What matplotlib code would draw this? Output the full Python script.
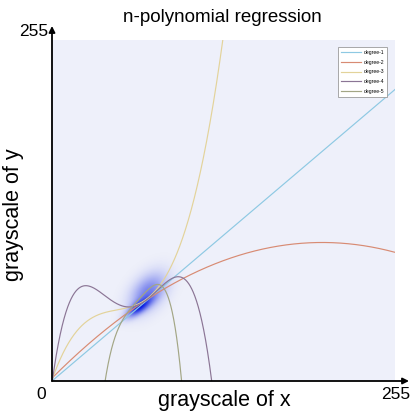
import numpy as np
import matplotlib
matplotlib.use('Agg')
import matplotlib.pyplot as plt

plt.rcParams['font.family'] = ['Liberation Sans', 'DejaVu Sans']

# ---------------- data ----------------
labels = ['degree-1', 'degree-2', 'degree-3', 'degree-4', 'degree-5']
degrees = [1, 2, 3, 4, 5]
colors = ['#8ec9e3', '#d88b73', '#e3d39a', '#8b7595', '#a3a685']

# points (grayscale x, grayscale y)
deg1_x = [0, 158.4, 255]
deg1_y = [0, 135.4, 218]
deg2_x = [0, 23.3, 58, 97.4, 147.2, 199.3, 255]
deg2_y = [0, 27.0, 52.0, 77.8, 94.2, 104.0, 96.5]
deg3_x = [0, 23.3, 58, 87.7, 104.8, 127.1]
deg3_y = [0, 44.4, 53.6, 83.0, 135.4, 255]
deg4_x = [0, 5.9, 13.4, 25.8, 48.1, 58, 96.7, 118.7]
deg4_y = [0, 30.7, 60.6, 71.8, 59.3, 53.6, 77.8, 0]
deg5_x = [39.4, 44.4, 51.8, 58, 70, 80, 85.3, 90.2, 96.4]
deg5_y = [0, 23.2, 45.6, 53.6, 66.0, 71.0, 69.3, 44.4, 0]

curve_x = [deg1_x, deg2_x, deg3_x, deg4_x, deg5_x]
curve_y = [deg1_y, deg2_y, deg3_y, deg4_y, deg5_y]

# blue sample cloud: centre x, centre y, sd major, sd minor, angle (deg), peak opacity
blob_cx = [65.0, 71.0]
blob_cy = [55.5, 66.0]
blob_sd_major = [7.5, 11.0]
blob_sd_minor = [2.8, 7.0]
blob_angle = [38.0, 50.0]
blob_peak = [1.0, 0.5]

axis_max = 255
axis_labels = ['0', '255', '255']

# ---------------- figure ----------------
W = H = 411
fig = plt.figure(figsize=(W / 100, H / 100), dpi=100)
L, R, T, B = 52, 395, 40, 381
ax = fig.add_axes([L / W, 1 - B / H, (R - L) / W, (B - T) / H])
ax.set_facecolor('#eef0fa')
ax.set_xlim(0, axis_max)
ax.set_ylim(0, axis_max)
for s in ax.spines.values():
    s.set_visible(False)
ax.set_xticks([])
ax.set_yticks([])

# density cloud
gx = np.linspace(25, 115, 450)
gy = np.linspace(20, 110, 450)
X, Y = np.meshgrid(gx, gy)
alpha = np.zeros_like(X)
for cx, cy, sa, sb, ang, pk in zip(blob_cx, blob_cy, blob_sd_major, blob_sd_minor, blob_angle, blob_peak):
    t = np.deg2rad(ang)
    u = (X - cx) * np.cos(t) + (Y - cy) * np.sin(t)
    v = -(X - cx) * np.sin(t) + (Y - cy) * np.cos(t)
    g = pk * np.exp(-0.5 * ((u / sa) ** 2 + (v / sb) ** 2))
    alpha = 1 - (1 - alpha) * (1 - g)
img = np.zeros(X.shape + (4,))
img[..., 0] = 0.0
img[..., 1] = 0.08
img[..., 2] = 0.88
img[..., 3] = np.clip(alpha, 0, 1)
ax.imshow(img, extent=(gx[0], gx[-1], gy[0], gy[-1]), origin='lower',
          interpolation='bilinear', zorder=1, aspect='auto')

# polynomial fits
xs = np.linspace(0, axis_max, 3000)
for lab, d, c, px, py in zip(labels, degrees, colors, curve_x, curve_y):
    coef = np.polyfit(px, py, d)
    ax.plot(xs, np.polyval(coef, xs), color=c, lw=0.85, label=lab, zorder=2)

leg = ax.legend(loc='upper right', bbox_to_anchor=(0.977, 0.979), fontsize=3.6,
                handlelength=4.0, handletextpad=0.6, labelspacing=0.95,
                borderaxespad=0, borderpad=0.55, fancybox=False, framealpha=1,
                edgecolor='#9a9a9a')
leg.get_frame().set_linewidth(0.6)

# axis arrows
arrow = dict(arrowstyle='-|>', color='black', lw=1.3, mutation_scale=9,
             shrinkA=0, shrinkB=0)
ax.annotate('', xy=((409 - L) / (R - L), 0), xytext=(0, 0), xycoords='axes fraction',
            arrowprops=arrow, annotation_clip=False)
ax.annotate('', xy=(0, (B - 26) / (B - T)), xytext=(0, 0), xycoords='axes fraction',
            arrowprops=arrow, annotation_clip=False)

def ftext(x, y, s, **kw):
    fig.text(x / W, 1 - y / H, s, ha='center', va='center', **kw)

ftext(222, 18, 'n-polynomial regression', fontsize=13.5)
ftext(34, 31, axis_labels[2], fontsize=12.5)
ftext(41, 394, axis_labels[0], fontsize=12.5)
ftext(396, 394, axis_labels[1], fontsize=12.5)
ftext(224, 400, 'grayscale of x', fontsize=15.5)
ftext(13, 215, 'grayscale of y', fontsize=15.5, rotation=90)

fig.savefig('out.png', dpi=100)
